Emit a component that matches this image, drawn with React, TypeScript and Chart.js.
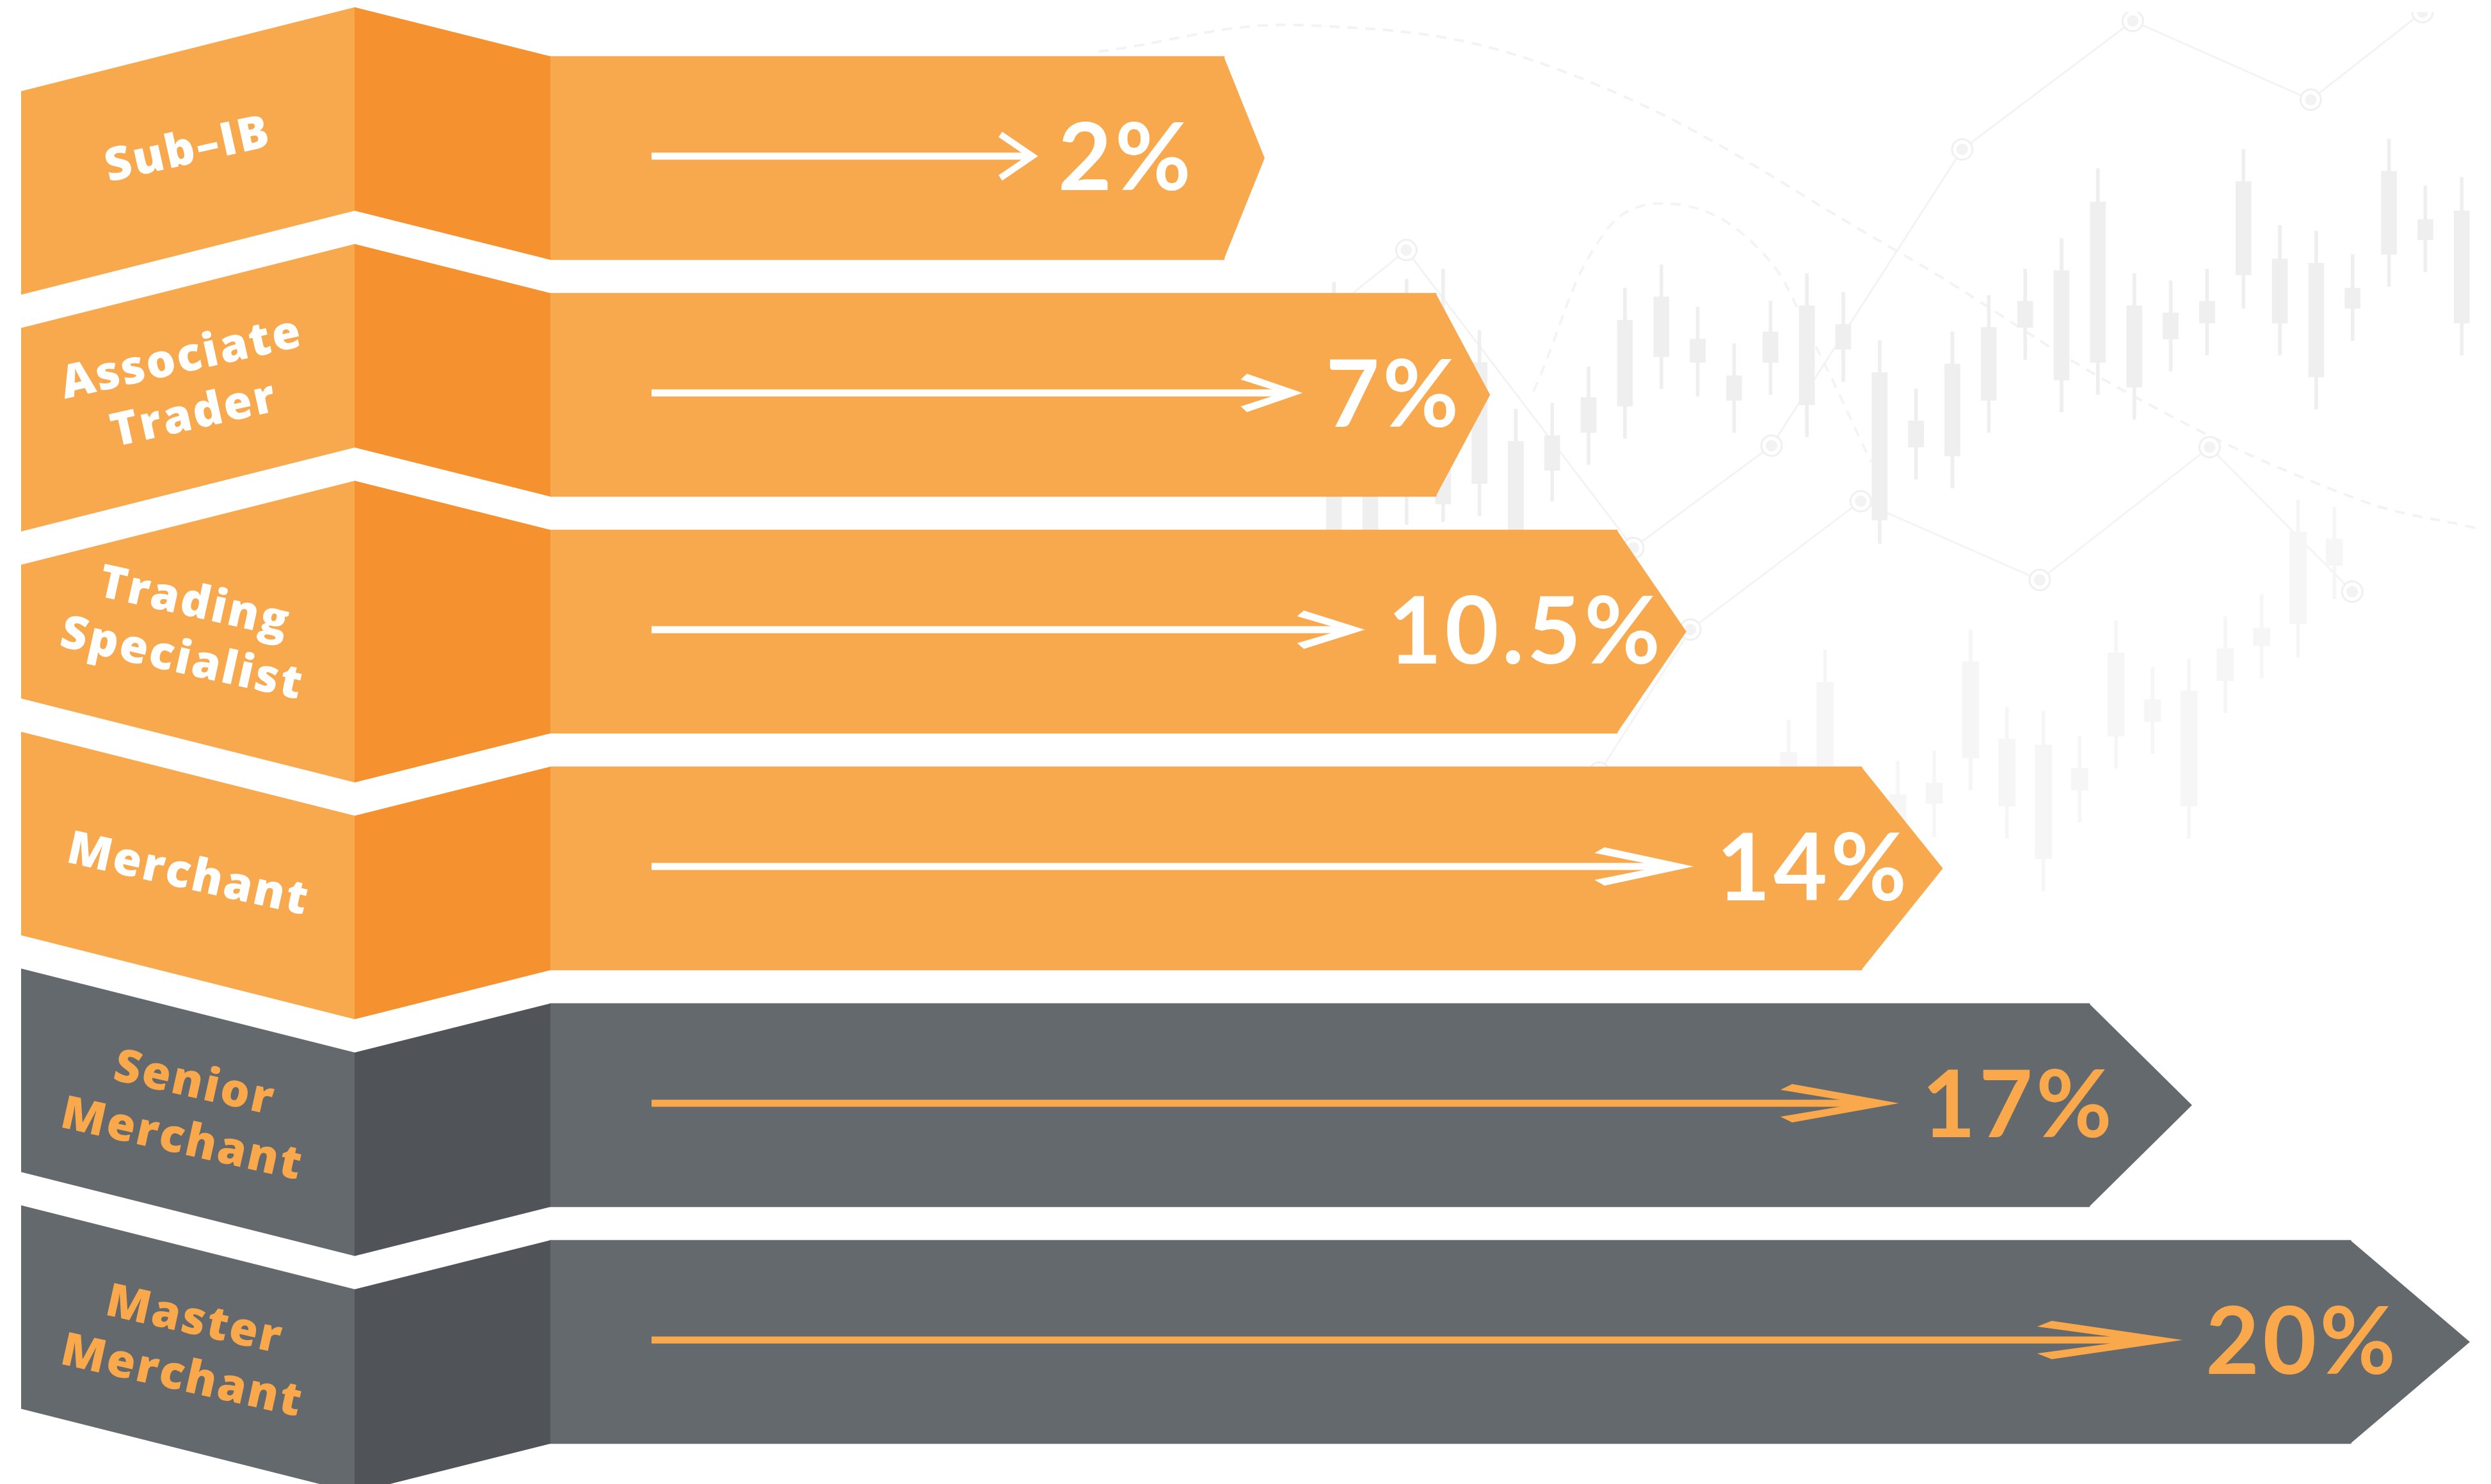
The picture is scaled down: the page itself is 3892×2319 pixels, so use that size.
import React, { useEffect, useRef } from "react";
import { Chart, registerables } from "chart.js";

Chart.register(...registerables);

// ---------------- main chart data ----------------
const categories = ["Sub–IB", "Associate Trader", "Trading Specialist", "Merchant", "Senior Merchant", "Master Merchant"];
const categoryLines = [["Sub–IB"], ["Associate", "Trader"], ["Trading", "Specialist"], ["Merchant"], ["Senior", "Merchant"], ["Master", "Merchant"]];
const rateValues = [2, 7, 10.5, 14, 17, 20];
const rateLabels = ["2%", "7%", "10.5%", "14%", "17%", "20%"];
// visual reach of each arrow bar (body and pointed tip) on a 0-100 track
const barReach = [34.98, 45.97, 55.36, 68.04, 79.85, 93.4];
const tipReach = [2.09, 2.79, 3.58, 4.2, 5.31, 6.17];
const tierGroup = ["orange", "orange", "orange", "orange", "gray", "gray"];
const topFold = ["up", "up", "up", "down", "down", "down"];
const bottomFold = ["up", "up", "down", "down", "down", "down"];

// ---------------- background candlestick decoration (price 0-100) ----------------
const upperIndex = [-6, -5, -4, -3, -2, -1, 0, 1, 2, 3, 4, 5, 6, 7, 8, 9, 10, 11, 12, 13, 14, 15, 16, 17, 18, 19, 20, 21, 22, 23, 24, 25];
const upperWickHigh = [81.5, 75.0, 81.7, 82.4, 78.2, 72.8, 73.2, 75.7, 81.1, 82.7, 79.8, 77.3, 80.2, 82.1, 80.8, 77.5, 74.2, 78.1, 80.6, 82.4, 84.5, 89.3, 82.1, 81.6, 82.4, 90.6, 85.4, 85.0, 83.4, 91.3, 88.1, 88.7];
const upperBodyHigh = [74.1, 74.1, 77.6, 75.9, 76.0, 70.6, 71.0, 73.6, 78.9, 80.5, 77.6, 75.1, 78.1, 79.9, 78.6, 75.3, 72.0, 75.9, 78.4, 80.2, 82.3, 87.0, 79.9, 79.4, 80.2, 88.4, 83.1, 82.8, 81.1, 89.1, 85.8, 86.4];
const upperBodyLow = [63.3, 63.3, 67.2, 66.3, 67.7, 64.2, 68.6, 71.2, 73.0, 76.4, 76.0, 73.4, 76.0, 73.1, 76.9, 65.2, 70.2, 69.6, 73.4, 78.4, 74.8, 76.0, 74.3, 77.6, 78.7, 82.0, 78.7, 75.0, 79.7, 83.4, 84.4, 78.7];
const upperWickLow = [62.5, 62.5, 64.9, 65.1, 65.5, 62.9, 66.5, 69.0, 70.8, 74.2, 73.7, 71.2, 73.8, 70.9, 74.7, 63.6, 68.0, 67.4, 71.2, 76.2, 72.6, 73.8, 72.1, 75.4, 76.5, 79.7, 76.5, 72.8, 77.5, 81.2, 82.2, 76.5];

const lowerIndex = [6.5, 7.5, 9.5, 10.5, 11.5, 12.5, 13.5, 14.5, 15.5, 16.5, 17.5, 18.5, 19.5, 20.5, 21.5];
const lowerWickHigh = [51.5, 56.3, 48.7, 49.4, 57.7, 52.4, 52.1, 50.4, 58.3, 55.1, 55.7, 58.6, 60.1, 66.6, 66.1];
const lowerBodyHigh = [49.3, 54.1, 46.4, 47.2, 55.5, 50.2, 49.8, 48.2, 56.1, 52.9, 53.5, 56.4, 57.8, 64.4, 63.9];
const lowerBodyLow = [43.9, 43.9, 44.6, 45.8, 48.9, 45.6, 42.0, 46.7, 50.4, 51.4, 45.6, 54.2, 56.6, 58.1, 62.1];
const lowerWickLow = [42.6, 42.6, 44.3, 43.5, 46.7, 43.4, 39.8, 44.5, 48.2, 49.2, 43.4, 52.0, 54.4, 55.8, 59.8];

const trendAIndex = [-6.45, -4.01, 2.23, 6.03, 11.27, 15.96, 20.85, 23.92];
const trendAPrice = [78.8, 83.7, 63.3, 70.3, 90.6, 99.4, 94.0, 100];
const trendBIndex = [1.29, 3.8, 8.48, 13.4, 18.07, 21.99];
const trendBPrice = [47.9, 57.7, 66.5, 61.1, 70.2, 60.3];
const arcAIndex = [-12.47, -6.76, 0.35, 9.43, 16.05, 22.06, 25.47];
const arcAPrice = [97.3, 99.1, 95.9, 83.7, 73.6, 66.7, 64.6];
const arcBIndex = [-0.52, 1.57, 3.54, 5.75, 7.14, 8.76];
const arcBPrice = [74.0, 85.3, 86.8, 83.6, 77.6, 69.2];

// ---------------- styles ----------------
const PALETTE: Record<string, { face: string; fold: string; text: string }> = {
  orange: { face: "#F9A94D", fold: "#F5922F", text: "#FFFFFF" },
  gray: { face: "#64696D", fold: "#505458", text: "#F9A84B" },
};
const PANEL_X0 = 33;
const PANEL_XF = 554;
const SLOPE = 0.252;
const LABEL_X = 292;
const LABEL_FONT = "800 72px 'Open Sans'";
const VALUE_FONT = "700 145px Lato";
const VALUE_OFFSET = [-52, 35, 67, 70, 35, 70]; // px from body end to right edge of value text
const HEAD_STYLE = ["chevron", "barb", "barb", "barb", "barb", "barb"];

function foldEdge(E: number, dir: string, xb: number) {
  const run = SLOPE * (xb - PANEL_XF);
  const run2 = SLOPE * (PANEL_XF - PANEL_X0);
  if (dir === "up") {
    const yf = E - run;
    return { yf, y0: yf + run2 };
  }
  const yf = E + run;
  return { yf, y0: yf - run2 };
}

function drawInnerArrow(ctx: CanvasRenderingContext2D, x0: number, x1: number, y: number, color: string, style: string) {
  const len = x1 - x0;
  const t = 11;
  ctx.fillStyle = color;
  ctx.strokeStyle = color;
  if (style === "chevron") {
    ctx.fillRect(x0, y - t / 2, len - 8, t);
    ctx.lineWidth = 10;
    ctx.lineJoin = "miter";
    ctx.lineCap = "butt";
    ctx.beginPath();
    ctx.moveTo(x1 - 54, y - 34);
    ctx.lineTo(x1 - 4, y);
    ctx.lineTo(x1 - 54, y + 34);
    ctx.stroke();
    return;
  }
  const L = Math.max(58, len * 0.095);
  const Hh = 30;
  ctx.fillRect(x0, y - t / 2, len - L * 0.45, t);
  ctx.beginPath();
  ctx.moveTo(x1, y);
  ctx.lineTo(x1 - L * 0.9, y - Hh);
  ctx.lineTo(x1 - L, y - Hh + 9);
  ctx.lineTo(x1 - L * 0.5, y - t / 2);
  ctx.lineTo(x1 - L * 0.5, y + t / 2);
  ctx.lineTo(x1 - L, y + Hh - 9);
  ctx.lineTo(x1 - L * 0.9, y + Hh);
  ctx.closePath();
  ctx.fill();
}

const ribbonPlugin = {
  id: "ribbons",
  afterDatasetsDraw(chart: any) {
    const ctx: CanvasRenderingContext2D = chart.ctx;
    const bodies = chart.getDatasetMeta(0).data;
    const tips = chart.getDatasetMeta(1).data;
    const xb = chart.chartArea.left;
    ctx.save();
    for (let i = 0; i < categories.length; i++) {
      const b = bodies[i].getProps(["x", "y", "base", "height"], true);
      const t = tips[i].getProps(["x", "y", "base", "height"], true);
      const top = b.y - b.height / 2;
      const bot = b.y + b.height / 2;
      const pal = PALETTE[tierGroup[i]];

      // pointed tip
      ctx.fillStyle = pal.face;
      ctx.beginPath();
      ctx.moveTo(t.base - 1, top);
      ctx.lineTo(t.x, b.y);
      ctx.lineTo(t.base - 1, bot);
      ctx.closePath();
      ctx.fill();

      // folded label ribbon
      const te = foldEdge(top, topFold[i], xb);
      const be = foldEdge(bot, bottomFold[i], xb);
      ctx.fillStyle = pal.face;
      ctx.beginPath();
      ctx.moveTo(PANEL_X0, te.y0);
      ctx.lineTo(PANEL_XF + 0.5, te.yf);
      ctx.lineTo(PANEL_XF + 0.5, be.yf);
      ctx.lineTo(PANEL_X0, be.y0);
      ctx.closePath();
      ctx.fill();
      ctx.fillStyle = pal.fold;
      ctx.beginPath();
      ctx.moveTo(PANEL_XF, te.yf);
      ctx.lineTo(xb + 1, top);
      ctx.lineTo(xb + 1, bot);
      ctx.lineTo(PANEL_XF, be.yf);
      ctx.closePath();
      ctx.fill();

      // label text
      const shift = ((topFold[i] === "up" ? -11 : 11) + (bottomFold[i] === "up" ? -11 : 11)) / 2;
      const ang = ((bottomFold[i] === "down" ? 12.5 : -12.5) * Math.PI) / 180;
      ctx.save();
      ctx.translate(LABEL_X, b.y + shift);
      ctx.rotate(ang);
      ctx.font = LABEL_FONT;
      (ctx as any).letterSpacing = "3px";
      ctx.fillStyle = pal.text;
      ctx.textAlign = "center";
      ctx.textBaseline = "middle";
      const lines = categoryLines[i];
      const lh = 90;
      lines.forEach((ln, j) => {
        ctx.fillText(ln, 2, (j - (lines.length - 1) / 2) * lh);
      });
      ctx.restore();

      // value + inner arrow
      ctx.save();
      ctx.font = VALUE_FONT;
      (ctx as any).letterSpacing = "5px";
      const label = rateLabels[i];
      const w = ctx.measureText(label).width - 5;
      const textRight = t.base + VALUE_OFFSET[i];
      const textLeft = textRight - w;
      ctx.fillStyle = pal.text;
      ctx.textAlign = "left";
      ctx.textBaseline = "alphabetic";
      ctx.fillText(label, textLeft, b.y + 50);
      ctx.restore();
      drawInnerArrow(ctx, xb + 159, textLeft - 36, b.y - 3, pal.text, HEAD_STYLE[i]);
    }
    ctx.restore();
  },
};

export default function App() {
  const bgRef = useRef<HTMLCanvasElement | null>(null);
  const fgRef = useRef<HTMLCanvasElement | null>(null);

  useEffect(() => {
    let cancelled = false;
    let bg: Chart | null = null;
    let fg: Chart | null = null;

    const build = () => {
      if (cancelled || !bgRef.current || !fgRef.current) return;
      const candle = (idx: number[], lo: number[], hi: number[]) =>
        idx.map((k, i) => ({ x: k, y: [lo[i], hi[i]] }));
      const pts = (idx: number[], p: number[]) => idx.map((k, i) => ({ x: k, y: p[i] }));
      const ring = { pointRadius: 16, pointBorderWidth: 3, pointBorderColor: "#F0F0F0", pointBackgroundColor: "#FFFFFF" };
      const dot = { showLine: false, pointRadius: 9, pointBorderWidth: 0, pointBorderColor: "#F3F3F3", pointBackgroundColor: "#F3F3F3", borderColor: "#F3F3F3", backgroundColor: "#F3F3F3" };

      bg = new Chart(bgRef.current, {
        type: "bar",
        data: {
          datasets: [
            { type: "line", data: pts(arcAIndex, arcAPrice), borderColor: "#F3F3F3", backgroundColor: "#F3F3F3", borderWidth: 4, borderDash: [16, 12], tension: 0.4, pointRadius: 0, order: 6 } as any,
            { type: "line", data: pts(arcBIndex, arcBPrice), borderColor: "#F4F4F4", backgroundColor: "#F4F4F4", borderWidth: 4, borderDash: [16, 12], tension: 0.4, pointRadius: 0, order: 6 } as any,
            { type: "line", data: pts(trendAIndex, trendAPrice), borderColor: "#F3F3F3", backgroundColor: "#F3F3F3", borderWidth: 3, ...ring, order: 5 } as any,
            { type: "line", data: pts(trendBIndex, trendBPrice), borderColor: "#F4F4F4", backgroundColor: "#F4F4F4", borderWidth: 3, ...ring, order: 5 } as any,
            { type: "line", data: pts(trendAIndex, trendAPrice), ...dot, order: 4 } as any,
            { type: "line", data: pts(trendBIndex, trendBPrice), ...dot, order: 4 } as any,
            { data: candle(lowerIndex, lowerWickLow, lowerWickHigh), backgroundColor: "#F6F6F6", barThickness: 5, grouped: false, order: 3 } as any,
            { data: candle(lowerIndex, lowerBodyLow, lowerBodyHigh), backgroundColor: "#F6F6F6", barThickness: 26, grouped: false, order: 3 } as any,
            { data: candle(upperIndex, upperWickLow, upperWickHigh), backgroundColor: "#EFEFEF", barThickness: 5, grouped: false, order: 1 } as any,
            { data: candle(upperIndex, upperBodyLow, upperBodyHigh), backgroundColor: "#EFEFEF", barThickness: 24, grouped: false, order: 1 } as any,
          ],
        },
        options: {
          animation: false,
          responsive: true,
          maintainAspectRatio: false,
          events: [],
          layout: { padding: 0 },
          plugins: { legend: { display: false }, tooltip: { enabled: false }, colors: { enabled: false } },
          scales: {
            x: { type: "linear", min: -42.33, max: 25.47, display: false, offset: false },
            y: { type: "linear", min: 0, max: 100, display: false },
          },
        } as any,
      });

      fg = new Chart(fgRef.current, {
        type: "bar",
        data: {
          labels: categories,
          datasets: [
            {
              label: "Commission",
              data: barReach,
              backgroundColor: tierGroup.map((g) => PALETTE[g].face),
              borderWidth: 0,
              barThickness: 318,
            },
            {
              label: "Tip",
              data: tipReach,
              backgroundColor: "rgba(0,0,0,0)",
              borderWidth: 0,
              barThickness: 318,
            },
          ],
        },
        options: {
          animation: false,
          responsive: true,
          maintainAspectRatio: false,
          indexAxis: "y",
          events: [],
          layout: { padding: { left: 859, right: 20, top: 62, bottom: 37 } },
          plugins: { legend: { display: false }, tooltip: { enabled: false }, colors: { enabled: false } },
          scales: {
            x: { type: "linear", min: 0, max: 100, stacked: true, display: false },
            y: { type: "category", stacked: true, display: false, offset: true },
          },
        } as any,
        plugins: [ribbonPlugin],
      });
    };

    const fontsReady = (document as any).fonts
      ? Promise.all([
          (document as any).fonts.load(LABEL_FONT, "Merchant"),
          (document as any).fonts.load(VALUE_FONT, "10.5%"),
        ]).catch(() => null)
      : Promise.resolve(null);
    fontsReady.then(build);

    return () => {
      cancelled = true;
      if (bg) bg.destroy();
      if (fg) fg.destroy();
    };
  }, []);

  return (
    <div style={{ position: "fixed", left: 0, top: 0, width: "100vw", height: "100vh", background: "#FFFFFF" }}>
      <div style={{ position: "absolute", inset: 0 }}>
        <canvas ref={bgRef} />
      </div>
      <div style={{ position: "absolute", inset: 0 }}>
        <canvas ref={fgRef} />
      </div>
    </div>
  );
}
